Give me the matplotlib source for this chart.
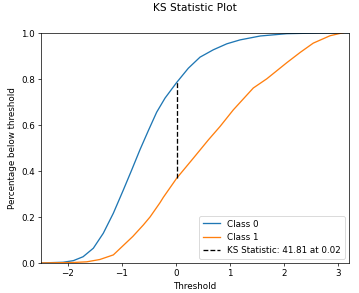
import matplotlib
matplotlib.use("Agg")
import matplotlib.pyplot as plt

# CDF values
thr0 = [-2.5, -2.09, -1.9, -1.72, -1.53, -1.346, -1.16, -0.975, -0.82, -0.667, -0.512,
        -0.358, -0.204, 0.012, 0.228, 0.444, 0.69, 0.94, 1.185, 1.56, 2.05, 2.66, 3.2]
cdf0 = [0.0, 0.003, 0.01, 0.027, 0.064, 0.129, 0.216, 0.317, 0.404, 0.492, 0.575,
        0.655, 0.716, 0.784, 0.846, 0.894, 0.926, 0.952, 0.969, 0.986, 0.996, 0.999, 1.0]

thr1 = [-2.5, -1.9, -1.65, -1.41, -1.16, -0.98, -0.8, -0.605, -0.48, -0.296, -0.235,
        0.012, 0.32, 0.6, 0.815, 1.06, 1.43, 1.68, 2.05, 2.3, 2.54, 2.85, 3.07, 3.1]
cdf1 = [0.0, 0.002, 0.005, 0.015, 0.035, 0.075, 0.115, 0.165, 0.2, 0.262, 0.285,
        0.368, 0.455, 0.535, 0.593, 0.665, 0.76, 0.8, 0.87, 0.915, 0.955, 0.987, 0.999, 1.0]

ks_value = 41.81
ks_at = 0.02
ks_low = 0.368
ks_high = 0.784

fig, ax = plt.subplots(figsize=(359 / 63, 293.4 / 63), dpi=63)
fig.subplots_adjust(left=0.114, right=0.972, top=0.887, bottom=0.1024)

ax.plot(thr0, cdf0, color='#1f77b4', label='Class 0')
ax.plot(thr1, cdf1, color='#ff7f0e', label='Class 1')
ax.plot([ks_at, ks_at], [ks_low, ks_high], 'k--',
        label=f'KS Statistic: {ks_value:.2f} at {ks_at:.2f}')

ax.set_xlim(-2.5, 3.2)
ax.set_ylim(0, 1)
ax.set_title('KS Statistic Plot', pad=25)
ax.set_xlabel('Threshold')
ax.set_ylabel('Percentage below threshold')
ax.legend(loc='lower right')

fig.savefig('out.png', dpi=63)
